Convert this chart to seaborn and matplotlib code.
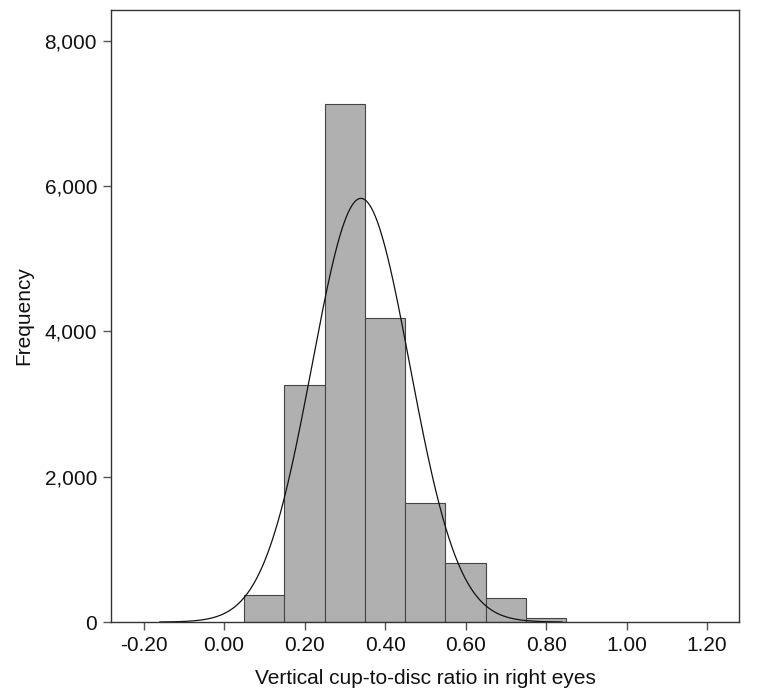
import numpy as np
import pandas as pd
import matplotlib
matplotlib.use("Agg")
import matplotlib.pyplot as plt
import matplotlib.ticker as mticker
import seaborn as sns

# histogram bins (vertical cup-to-disc ratio, right eyes)
bin_edges = [0.05, 0.15, 0.25, 0.35, 0.45, 0.55, 0.65, 0.75, 0.85]
bin_centers = [0.10, 0.20, 0.30, 0.40, 0.50, 0.60, 0.70, 0.80]
frequency = [371, 3260, 7125, 4182, 1637, 807, 326, 51]

# fitted normal curve parameters
curve_mean = 0.34
curve_sd = 0.1215
bin_width = 0.1

x_ticks = [-0.2, 0.0, 0.2, 0.4, 0.6, 0.8, 1.0, 1.2]
y_ticks = [0, 2000, 4000, 6000, 8000]


def main():
    sns.set_theme(style="white")
    plt.rcParams['font.family'] = ['Liberation Sans Narrow', 'Liberation Sans', 'DejaVu Sans']
    plt.rcParams['axes.unicode_minus'] = False

    df = pd.DataFrame({"ratio": bin_centers, "count": frequency})

    fig = plt.figure(figsize=(7.57, 6.94), dpi=100)
    ax = fig.add_axes([0.1466, 0.1037, 0.8300, 0.8819])

    sns.histplot(data=df, x="ratio", weights="count", bins=bin_edges,
                 color="#b0b0b0", alpha=1, edgecolor="#444444", linewidth=0.8, ax=ax)

    n_total = sum(frequency)
    xs = np.linspace(-0.16, 0.84, 400)
    ys = n_total * bin_width / (curve_sd * np.sqrt(2 * np.pi)) * np.exp(-0.5 * ((xs - curve_mean) / curve_sd) ** 2)
    sns.lineplot(x=xs, y=ys, color="#111111", linewidth=0.9, ax=ax)

    ax.set_xlim(-0.281, 1.280)
    ax.set_ylim(0, 8424)
    ax.set_xticks(x_ticks)
    ax.set_yticks(y_ticks)
    ax.xaxis.set_major_formatter(mticker.FuncFormatter(lambda v, p: f"{v:.2f}"))
    ax.yaxis.set_major_formatter(mticker.FuncFormatter(lambda v, p: f"{int(v):,}"))
    ax.tick_params(axis="both", which="major", direction="out", length=6, width=1,
                   color="#555555", labelsize=15, labelcolor="#111111", pad=4,
                   bottom=True, left=True)
    for sp in ax.spines.values():
        sp.set_color("#333333")
        sp.set_linewidth(1.0)

    ax.set_xlabel("Vertical cup-to-disc ratio in right eyes", fontsize=15, color="#111111", labelpad=10)
    ax.set_ylabel("Frequency", fontsize=15, color="#111111", labelpad=8)

    fig.savefig("out.png", dpi=100)


if __name__ == "__main__":
    main()
